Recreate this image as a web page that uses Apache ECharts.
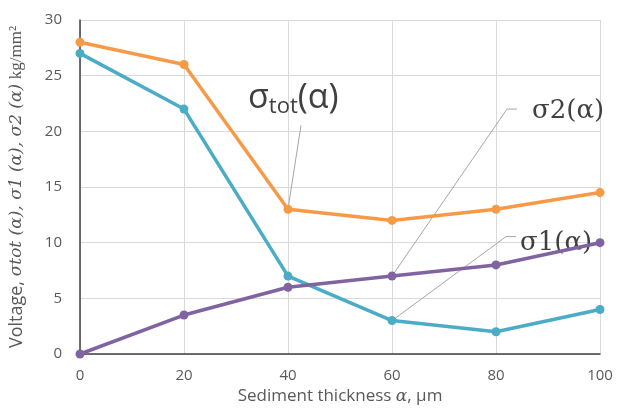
<!DOCTYPE html>
<html>
<head>
<meta charset="utf-8">
<script src="https://cdn.jsdelivr.net/npm/echarts@6/dist/echarts.min.js"></script>
<style>
  html, body { margin: 0; padding: 0; background: #fff; }
  #chart { width: 617px; height: 410px; }
</style>
</head>
<body>
<div id="chart"></div>
<script>
const thickness = [0, 20, 40, 60, 80, 100]
const sigmaTot = [28, 26, 13, 12, 13, 14.5]
const sigma2 = [27, 22, 7, 3, 2, 4]
const sigma1 = [0, 3.5, 6, 7, 8, 10]

const textColor = '#595959'
const font = '"Open Sans", "Noto Sans", sans-serif'

const chart = echarts.init(document.getElementById('chart'))

function lineSeries(name, values, color) {
  return {
    name: name,
    type: 'line',
    data: thickness.map((x, i) => [x, values[i]]),
    symbol: 'circle',
    symbolSize: 9,
    lineStyle: { color: color, width: 3.5 },
    itemStyle: { color: color },
    animation: false
  }
}

chart.setOption({
  grid: { left: 80, right: 17, top: 20, bottom: 56 },
  xAxis: {
    type: 'value',
    min: 0,
    max: 100,
    interval: 20,
    name: 'Sediment thickness {i|α}, μm',
    nameLocation: 'middle',
    nameGap: 34,
    nameTextStyle: {
      color: textColor, fontSize: 17, fontFamily: font,
      rich: { i: { fontStyle: 'italic', fontFamily: 'DejaVu Serif', fontSize: 17, color: textColor } }
    },
    axisLine: { lineStyle: { color: '#404040', width: 1.5 } },
    axisTick: { show: false },
    axisLabel: { color: textColor, fontSize: 15, fontFamily: font, margin: 14 },
    splitLine: { lineStyle: { color: '#d9d9d9' } }
  },
  yAxis: {
    type: 'value',
    min: 0,
    max: 30,
    interval: 5,
    name: 'Voltage, {i|σtot (α), σ1 (α), σ2 (α)} {s|kg/mm²}',
    nameLocation: 'middle',
    nameRotate: 90,
    nameGap: 54,
    nameTextStyle: {
      color: textColor, fontSize: 18, fontFamily: font,
      rich: {
        i: { fontStyle: 'italic', fontFamily: 'DejaVu Serif', fontSize: 17, color: textColor },
        s: { fontFamily: 'Liberation Serif', fontSize: 17, color: textColor }
      }
    },
    axisLine: { show: true, lineStyle: { color: '#404040', width: 1.5 } },
    axisTick: { show: false },
    axisLabel: { color: textColor, fontSize: 15, fontFamily: font, margin: 18 },
    splitLine: { lineStyle: { color: '#d9d9d9' } }
  },
  series: [
    lineSeries('σtot', sigmaTot, '#f79a48'),
    lineSeries('σ2', sigma2, '#4aacc6'),
    lineSeries('σ1', sigma1, '#8064a2')
  ]
})

// callout labels, anchored to data points
function px(x, y) { return chart.convertToPixel({ gridIndex: 0 }, [x, y]) }
const labelColor = '#404040'
const p40 = px(thickness[2], sigmaTot[2])
const p60a = px(thickness[3], sigma1[3])
const p60b = px(thickness[3], sigma2[3])
const leader = { stroke: '#a6a6a6', lineWidth: 1 }

chart.setOption({
  graphic: [
    { type: 'polyline', shape: { points: [p40, [p40[0] + 13, p40[1] - 84]] }, style: leader, silent: true },
    { type: 'polyline', shape: { points: [p60a, [p60a[0] + 115, p60a[1] - 167], [p60a[0] + 125, p60a[1] - 167]] }, style: leader, silent: true },
    { type: 'polyline', shape: { points: [p60b, [p60b[0] + 114, p60b[1] - 84], [p60b[0] + 124, p60b[1] - 84]] }, style: leader, silent: true },
    {
      type: 'text', left: p40[0] - 40, top: p40[1] - 128,
      style: {
        text: '{a|σ}{b|tot}{a|(α)}',
        rich: {
          a: { fontSize: 34, fontFamily: font, fill: labelColor, color: labelColor },
          b: { fontSize: 22, fontFamily: font, fill: labelColor, color: labelColor, verticalAlign: 'bottom', padding: [16, 0, 0, 0] }
        }
      }
    },
    {
      type: 'text', left: p60a[0] + 140, top: p60a[1] - 178,
      style: { text: 'σ2(α)', font: '26px "DejaVu Serif", serif', fill: labelColor }
    },
    {
      type: 'text', left: p60b[0] + 128, top: p60b[1] - 90,
      style: { text: 'σ1(α)', font: '26px "DejaVu Serif", serif', fill: labelColor }
    }
  ]
})
</script>
</body>
</html>
